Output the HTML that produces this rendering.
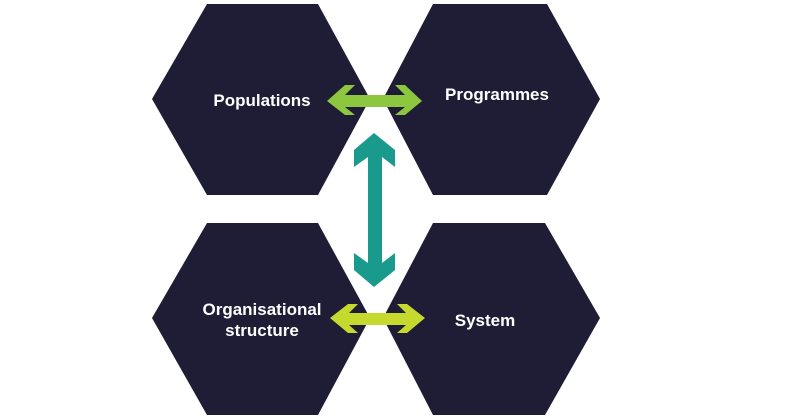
<!DOCTYPE html>
<html><head><meta charset="utf-8"><style>
html,body{margin:0;padding:0;background:#fff;}
svg{display:block;}
text{font-family:"Liberation Sans",sans-serif;font-weight:bold;fill:#fff;font-size:17px;text-anchor:middle;}
</style></head><body>
<svg width="800" height="419" viewBox="0 0 800 419">
<g fill="#1f1c35">
<polygon points="207,4 318,4 370,99 318,195 207,195 152,99"/>
<polygon points="433,4 547,4 600,99 547,195 433,195 383,99"/>
<polygon points="207,223 318,223 370,318 318,415 207,415 152,318"/>
<polygon points="433,223 545,223 600,318 545,415 433,415 383,318"/>
</g>
<polygon fill="#8dc63f" points="327,101 345,85 355,85 345,95 405,95 395,85 405,85 422,101 405,115 395,115 405,107 345,107 355,115 345,115"/>
<polygon fill="#c6d92e" points="330,318 348,304 358,304 349,313 406,313 397,304 407,304 425,318 407,333 397,333 406,325 349,325 358,333 348,333"/>
<polygon fill="#1a9a8c" points="374,133 395,150 395,167 382,157 382,263 395,253 395,270 374,287 354,270 354,253 368,263 368,157 354,167 354,150"/>
<text x="262" y="106">Populations</text>
<text x="497" y="100">Programmes</text>
<text x="262" y="315">Organisational</text>
<text x="262" y="336">structure</text>
<text x="485" y="326">System</text>
</svg>
</body></html>
